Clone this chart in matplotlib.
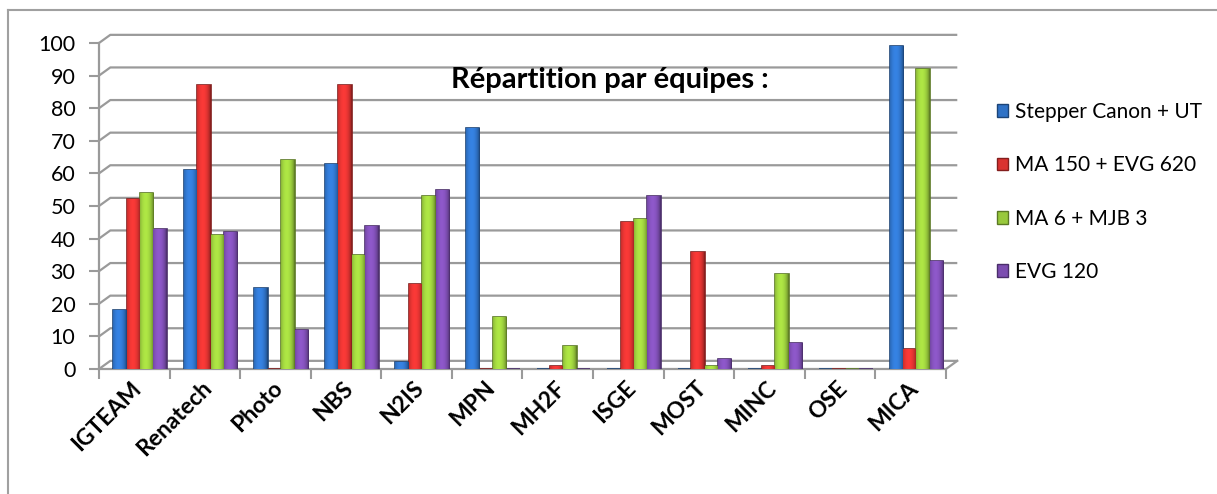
import numpy as np
import matplotlib
matplotlib.use("Agg")
import matplotlib.pyplot as plt
from matplotlib.colors import to_rgb
from matplotlib.lines import Line2D

plt.rcParams['font.family'] = ['Lato', 'DejaVu Sans']

# data
teams = ['IGTEAM', 'Renatech', 'Photo', 'NBS', 'N2IS', 'MPN', 'MH2F',
         'ISGE', 'MOST', 'MINC', 'OSE', 'MICA']
stepper = [18, 61, 25, 63, 2, 74, 0, 0, 0, 0, 0, 99]
ma150 = [52, 87, 0, 87, 26, 0, 1, 45, 36, 1, 0, 6]
ma6 = [54, 41, 64, 35, 53, 16, 7, 46, 1, 29, 0, 92]
evg120 = [43, 42, 12, 44, 55, 0, 0, 53, 3, 8, 0, 33]
series_names = ['Stepper Canon + UT', 'MA 150 + EVG 620', 'MA 6 + MJB 3', 'EVG 120']
colors = ['#2F72C6', '#DA3230', '#98C93C', '#7C4DB0']
yticks = list(range(0, 101, 10))

fig = plt.figure(figsize=(12.17, 4.94), dpi=100)
ax = fig.add_axes([99/1217, 1-369/494, 847/1217, 326/494])

series = [stepper, ma150, ma6, evg120]
n = len(teams)
x = np.arange(n)
w = 0.19
shift = 0.08   # little 3d offset to the right
dx, dy = 0.16, 2.5   # depth of the back wall

# back wall grid lines with a small slant at the left (3d look)
for t in yticks:
    ax.plot([-0.5, -0.5 + dx, n - 0.5 + dx], [t, t + dy, t + dy], color='#9a9a9a',
            lw=1.6, solid_capstyle='butt', zorder=1, clip_on=False)
# floor front edge
ax.plot([-0.5, n - 0.5, n - 0.5 + dx], [0, 0, dy], color='#9a9a9a', lw=1.6,
        zorder=1, clip_on=False)


def shade(c):
    # horizontal gradient for a cylinder-like look
    r = np.array(to_rgb(c))
    u = np.linspace(0, 1, 32)
    k = 0.55 + 0.6 * np.sin(np.pi * (0.15 + 0.85 * u)) ** 0.6
    k = np.clip(k, 0, 1.15)
    img = np.clip(r[None, :] * k[:, None], 0, 1)
    return img[None, :, :]


for i, (vals, c) in enumerate(zip(series, colors)):
    pos = x + shift + (i - 1.5) * w
    bars = ax.bar(pos, vals, w, color=c, edgecolor=np.array(to_rgb(c)) * 0.6,
                  lw=1.2, zorder=3)
    for b in bars:
        if b.get_height() <= 0:
            continue
        x0, y0 = b.get_x(), b.get_y()
        im = ax.imshow(shade(c), extent=[x0, x0 + b.get_width(), y0, y0 + b.get_height()],
                       aspect='auto', zorder=3.5, interpolation='bilinear')
        im.set_clip_path(b)

ax.set_xlim(-0.5, n - 0.5)
ax.set_ylim(0, 100)
ax.set_yticks(yticks)
ax.set_yticklabels([str(t) for t in yticks], fontsize=15.5)
ax.set_xticks(np.arange(n + 1) - 0.5, minor=True)
ax.set_xticks(x - 0.05)
ax.set_xticklabels(teams, rotation=45, ha='right', rotation_mode='anchor',
                   fontsize=16.5, fontweight='bold')
ax.tick_params(axis='x', which='major', length=0, pad=6)
ax.tick_params(axis='x', which='minor', length=7, color='#9a9a9a', width=1.5)
ax.tick_params(axis='y', length=7, color='#9a9a9a', width=1.5, pad=10)
for s in ['top', 'right', 'bottom']:
    ax.spines[s].set_visible(False)
ax.spines['left'].set_color('#9a9a9a')
ax.spines['left'].set_linewidth(1.6)

fig.text(610/1217, 1-80/494, 'Répartition par équipes :',
         ha='center', va='center', fontsize=21, fontweight='bold')

handles = [plt.Rectangle((0, 0), 1, 1, facecolor=c, edgecolor=np.array(to_rgb(c)) * 0.6)
           for c in colors]
fig.legend(handles, series_names, loc='upper left', bbox_to_anchor=(997/1217, 1-102/494),
           frameon=False, fontsize=15, handlelength=0.55, handleheight=0.55,
           handletextpad=0.3, labelspacing=1.6, borderaxespad=0, borderpad=0)

# outer chart border (left and top)
fig.add_artist(Line2D([8/1217, 8/1217], [0, 1-10/494], color='#a0a0a0', lw=1.5))
fig.add_artist(Line2D([8/1217, 1], [1-10/494, 1-10/494], color='#a0a0a0', lw=1.5))

fig.savefig('out.png', dpi=100)
